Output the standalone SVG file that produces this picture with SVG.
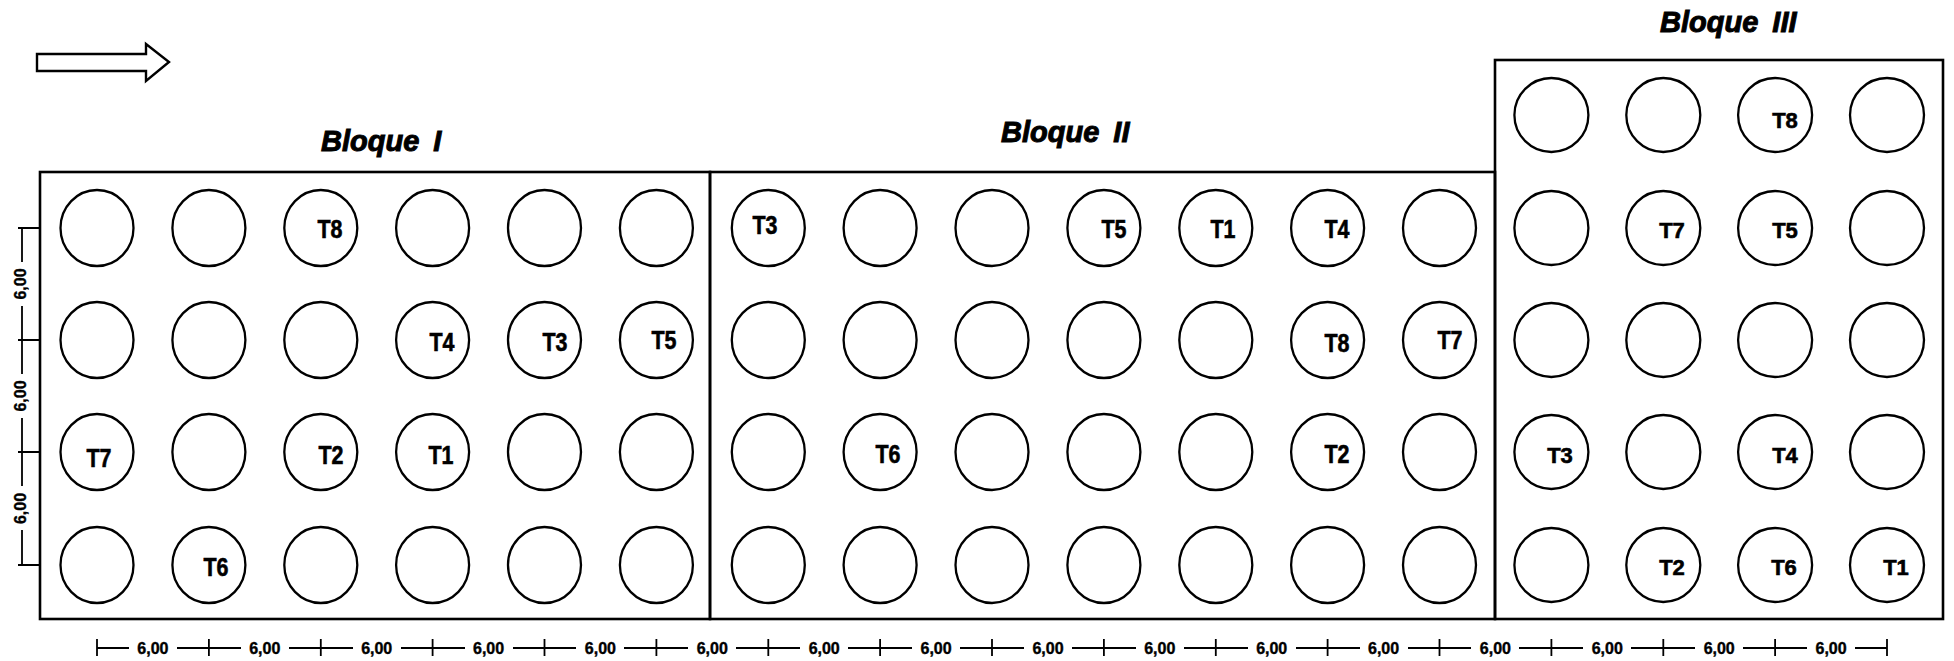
<svg xmlns="http://www.w3.org/2000/svg" width="1954" height="661" viewBox="0 0 1954 661">
<style>
.bg{fill:#fff}
.blk{fill:none;stroke:#000;stroke-width:2.6}
.c{fill:none;stroke:#000;stroke-width:2.3}
.l{font-family:"Liberation Sans",Arial,sans-serif;font-weight:bold;font-size:25px;text-anchor:middle;stroke:#000;stroke-width:0.6}
.l3{font-family:"Liberation Sans",Arial,sans-serif;font-weight:bold;font-size:22px;text-anchor:middle;stroke:#000;stroke-width:0.6}
.ttl{font-family:"Liberation Sans",Arial,sans-serif;font-weight:bold;font-style:italic;font-size:29px;stroke:#000;stroke-width:1}
.dim{fill:none;stroke:#000;stroke-width:1.8}
.dt{font-family:"Liberation Sans",Arial,sans-serif;font-weight:bold;font-size:16px;text-anchor:middle;stroke:#000;stroke-width:0.4}
.arrow{fill:#fff;stroke:#000;stroke-width:2.4;stroke-linejoin:miter}
</style>
<rect class="bg" x="0" y="0" width="1954" height="661"/>

<g id="direction-arrow">
<polygon class="arrow" points="37,54 146,54 146,44 169,62 146,81 146,71 37,71"/>
</g>

<g id="bloque-1">
<rect class="blk" x="40" y="172" width="670" height="447"/>
<text class="ttl" x="321" y="151">Bloque <tspan dx="6">I</tspan></text>
<g id="b1-r0">
<ellipse class="c" cx="97" cy="228" rx="36.5" ry="38"/>
<ellipse class="c" cx="208.9" cy="228" rx="36.5" ry="38"/>
<ellipse class="c" cx="320.8" cy="228" rx="36.5" ry="38"/>
<ellipse class="c" cx="432.6" cy="228" rx="36.5" ry="38"/>
<ellipse class="c" cx="544.5" cy="228" rx="36.5" ry="38"/>
<ellipse class="c" cx="656.4" cy="228" rx="36.5" ry="38"/>
</g>
<g id="b1-r1">
<ellipse class="c" cx="97" cy="340" rx="36.5" ry="38"/>
<ellipse class="c" cx="208.9" cy="340" rx="36.5" ry="38"/>
<ellipse class="c" cx="320.8" cy="340" rx="36.5" ry="38"/>
<ellipse class="c" cx="432.6" cy="340" rx="36.5" ry="38"/>
<ellipse class="c" cx="544.5" cy="340" rx="36.5" ry="38"/>
<ellipse class="c" cx="656.4" cy="340" rx="36.5" ry="38"/>
</g>
<g id="b1-r2">
<ellipse class="c" cx="97" cy="452" rx="36.5" ry="38"/>
<ellipse class="c" cx="208.9" cy="452" rx="36.5" ry="38"/>
<ellipse class="c" cx="320.8" cy="452" rx="36.5" ry="38"/>
<ellipse class="c" cx="432.6" cy="452" rx="36.5" ry="38"/>
<ellipse class="c" cx="544.5" cy="452" rx="36.5" ry="38"/>
<ellipse class="c" cx="656.4" cy="452" rx="36.5" ry="38"/>
</g>
<g id="b1-r3">
<ellipse class="c" cx="97" cy="565" rx="36.5" ry="38"/>
<ellipse class="c" cx="208.9" cy="565" rx="36.5" ry="38"/>
<ellipse class="c" cx="320.8" cy="565" rx="36.5" ry="38"/>
<ellipse class="c" cx="432.6" cy="565" rx="36.5" ry="38"/>
<ellipse class="c" cx="544.5" cy="565" rx="36.5" ry="38"/>
<ellipse class="c" cx="656.4" cy="565" rx="36.5" ry="38"/>
</g>
<g id="b1-labels">
<text class="l" x="330" y="238" textLength="25" lengthAdjust="spacingAndGlyphs">T8</text>
<text class="l" x="442" y="351" textLength="25" lengthAdjust="spacingAndGlyphs">T4</text>
<text class="l" x="555" y="351" textLength="25" lengthAdjust="spacingAndGlyphs">T3</text>
<text class="l" x="664" y="349" textLength="25" lengthAdjust="spacingAndGlyphs">T5</text>
<text class="l" x="99" y="467" textLength="25" lengthAdjust="spacingAndGlyphs">T7</text>
<text class="l" x="331" y="464" textLength="25" lengthAdjust="spacingAndGlyphs">T2</text>
<text class="l" x="441" y="464" textLength="25" lengthAdjust="spacingAndGlyphs">T1</text>
<text class="l" x="216" y="576" textLength="25" lengthAdjust="spacingAndGlyphs">T6</text>
</g>
</g>

<g id="bloque-2">
<rect class="blk" x="710" y="172" width="785" height="447"/>
<text class="ttl" x="1001" y="142">Bloque <tspan dx="6">II</tspan></text>
<g id="b2-r0">
<ellipse class="c" cx="768.3" cy="228" rx="36.5" ry="38"/>
<ellipse class="c" cx="880.1" cy="228" rx="36.5" ry="38"/>
<ellipse class="c" cx="992" cy="228" rx="36.5" ry="38"/>
<ellipse class="c" cx="1103.9" cy="228" rx="36.5" ry="38"/>
<ellipse class="c" cx="1215.8" cy="228" rx="36.5" ry="38"/>
<ellipse class="c" cx="1327.6" cy="228" rx="36.5" ry="38"/>
<ellipse class="c" cx="1439.5" cy="228" rx="36.5" ry="38"/>
</g>
<g id="b2-r1">
<ellipse class="c" cx="768.3" cy="340" rx="36.5" ry="38"/>
<ellipse class="c" cx="880.1" cy="340" rx="36.5" ry="38"/>
<ellipse class="c" cx="992" cy="340" rx="36.5" ry="38"/>
<ellipse class="c" cx="1103.9" cy="340" rx="36.5" ry="38"/>
<ellipse class="c" cx="1215.8" cy="340" rx="36.5" ry="38"/>
<ellipse class="c" cx="1327.6" cy="340" rx="36.5" ry="38"/>
<ellipse class="c" cx="1439.5" cy="340" rx="36.5" ry="38"/>
</g>
<g id="b2-r2">
<ellipse class="c" cx="768.3" cy="452" rx="36.5" ry="38"/>
<ellipse class="c" cx="880.1" cy="452" rx="36.5" ry="38"/>
<ellipse class="c" cx="992" cy="452" rx="36.5" ry="38"/>
<ellipse class="c" cx="1103.9" cy="452" rx="36.5" ry="38"/>
<ellipse class="c" cx="1215.8" cy="452" rx="36.5" ry="38"/>
<ellipse class="c" cx="1327.6" cy="452" rx="36.5" ry="38"/>
<ellipse class="c" cx="1439.5" cy="452" rx="36.5" ry="38"/>
</g>
<g id="b2-r3">
<ellipse class="c" cx="768.3" cy="565" rx="36.5" ry="38"/>
<ellipse class="c" cx="880.1" cy="565" rx="36.5" ry="38"/>
<ellipse class="c" cx="992" cy="565" rx="36.5" ry="38"/>
<ellipse class="c" cx="1103.9" cy="565" rx="36.5" ry="38"/>
<ellipse class="c" cx="1215.8" cy="565" rx="36.5" ry="38"/>
<ellipse class="c" cx="1327.6" cy="565" rx="36.5" ry="38"/>
<ellipse class="c" cx="1439.5" cy="565" rx="36.5" ry="38"/>
</g>
<g id="b2-labels">
<text class="l" x="765" y="234" textLength="25" lengthAdjust="spacingAndGlyphs">T3</text>
<text class="l" x="1114" y="238" textLength="25" lengthAdjust="spacingAndGlyphs">T5</text>
<text class="l" x="1223" y="238" textLength="25" lengthAdjust="spacingAndGlyphs">T1</text>
<text class="l" x="1337" y="238" textLength="25" lengthAdjust="spacingAndGlyphs">T4</text>
<text class="l" x="1337" y="352" textLength="25" lengthAdjust="spacingAndGlyphs">T8</text>
<text class="l" x="1450" y="349" textLength="25" lengthAdjust="spacingAndGlyphs">T7</text>
<text class="l" x="888" y="463" textLength="25" lengthAdjust="spacingAndGlyphs">T6</text>
<text class="l" x="1337" y="463" textLength="25" lengthAdjust="spacingAndGlyphs">T2</text>
</g>
</g>

<g id="bloque-3">
<rect class="blk" x="1495" y="60" width="448" height="559"/>
<text class="ttl" x="1660" y="32">Bloque <tspan dx="6">III</tspan></text>
<g id="b3-r0">
<circle class="c" cx="1551.4" cy="115" r="37"/>
<circle class="c" cx="1663.3" cy="115" r="37"/>
<circle class="c" cx="1775.1" cy="115" r="37"/>
<circle class="c" cx="1887" cy="115" r="37"/>
</g>
<g id="b3-r1">
<circle class="c" cx="1551.4" cy="228" r="37"/>
<circle class="c" cx="1663.3" cy="228" r="37"/>
<circle class="c" cx="1775.1" cy="228" r="37"/>
<circle class="c" cx="1887" cy="228" r="37"/>
</g>
<g id="b3-r2">
<circle class="c" cx="1551.4" cy="340" r="37"/>
<circle class="c" cx="1663.3" cy="340" r="37"/>
<circle class="c" cx="1775.1" cy="340" r="37"/>
<circle class="c" cx="1887" cy="340" r="37"/>
</g>
<g id="b3-r3">
<circle class="c" cx="1551.4" cy="452" r="37"/>
<circle class="c" cx="1663.3" cy="452" r="37"/>
<circle class="c" cx="1775.1" cy="452" r="37"/>
<circle class="c" cx="1887" cy="452" r="37"/>
</g>
<g id="b3-r4">
<circle class="c" cx="1551.4" cy="565" r="37"/>
<circle class="c" cx="1663.3" cy="565" r="37"/>
<circle class="c" cx="1775.1" cy="565" r="37"/>
<circle class="c" cx="1887" cy="565" r="37"/>
</g>
<g id="b3-labels">
<text class="l3" x="1785" y="128">T8</text>
<text class="l3" x="1672" y="238">T7</text>
<text class="l3" x="1785" y="238">T5</text>
<text class="l3" x="1560" y="463">T3</text>
<text class="l3" x="1785" y="463">T4</text>
<text class="l3" x="1672" y="575">T2</text>
<text class="l3" x="1784" y="575">T6</text>
<text class="l3" x="1896" y="575">T1</text>
</g>
</g>

<g id="connectors">
<g id="dim-bottom">
<path class="dim" d="M97,648 H129 M177,648 H241 M289,648 H353 M401,648 H465 M513,648 H576 M624,648 H688 M736,648 H800 M848,648 H912 M960,648 H1024 M1072,648 H1136 M1184,648 H1248 M1296,648 H1360 M1408,648 H1471 M1519,648 H1583 M1631,648 H1695 M1743,648 H1807 M1855,648 H1887"/>
<path class="dim" d="M97,639 V656 M208.9,639 V656 M320.8,639 V656 M432.6,639 V656 M544.5,639 V656 M656.4,639 V656 M768.3,639 V656 M880.1,639 V656 M992,639 V656 M1103.9,639 V656 M1215.8,639 V656 M1327.6,639 V656 M1439.5,639 V656 M1551.4,639 V656 M1663.3,639 V656 M1775.1,639 V656 M1887,639 V656"/>
<text class="dt" x="152.9" y="654">6,00</text>
<text class="dt" x="264.8" y="654">6,00</text>
<text class="dt" x="376.7" y="654">6,00</text>
<text class="dt" x="488.6" y="654">6,00</text>
<text class="dt" x="600.4" y="654">6,00</text>
<text class="dt" x="712.3" y="654">6,00</text>
<text class="dt" x="824.2" y="654">6,00</text>
<text class="dt" x="936.1" y="654">6,00</text>
<text class="dt" x="1048" y="654">6,00</text>
<text class="dt" x="1159.8" y="654">6,00</text>
<text class="dt" x="1271.7" y="654">6,00</text>
<text class="dt" x="1383.6" y="654">6,00</text>
<text class="dt" x="1495.4" y="654">6,00</text>
<text class="dt" x="1607.3" y="654">6,00</text>
<text class="dt" x="1719.2" y="654">6,00</text>
<text class="dt" x="1831.1" y="654">6,00</text>
</g>
<g id="dim-left">
<path class="dim" d="M22,228 V262 M22,306 V374 M22,418 V486 M22,530 V565"/>
<path class="dim" d="M18,228 H40 M18,340 H40 M18,452 H40 M18,565 H40"/>
<text class="dt" x="0" y="0" transform="translate(25.5,284) rotate(-90)">6,00</text>
<text class="dt" x="0" y="0" transform="translate(25.5,396) rotate(-90)">6,00</text>
<text class="dt" x="0" y="0" transform="translate(25.5,508.5) rotate(-90)">6,00</text>
</g>
</g>
</svg>
